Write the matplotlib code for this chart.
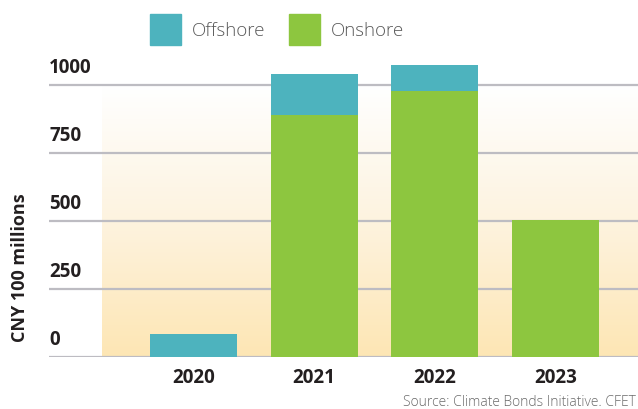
import numpy as np
import matplotlib
matplotlib.use("Agg")
import matplotlib.pyplot as plt
from matplotlib.colors import LinearSegmentedColormap
from matplotlib.patches import Rectangle
import matplotlib.transforms as mtransforms

years = ["2020", "2021", "2022", "2023"]
onshore = [0, 890, 978, 505]
offshore = [85, 150, 95, 0]
yticks = [0, 250, 500, 750, 1000]

C_OFF = "#4DB3BE"
C_ON = "#8DC63F"
DARK = "#231F20"
BOLD_FONT = "Open Sans"
LIGHT_FONT = "Open Sans"

fig = plt.figure(figsize=(6.38, 4.10), dpi=100)
ax = fig.add_axes([49/638, 52/410, 589/638, 299.2/410])
x = np.arange(len(years))
ax.set_xlim(-1.1975, 3.684)
ax.set_ylim(0, 1100)

# gradient background
cmap = LinearSegmentedColormap.from_list("bg", ["#FEE6B4", "#FDF3DF", "#FFFFFF"])
grad = np.linspace(0, 1, 256).reshape(-1, 1)
ax.imshow(grad, extent=[-0.758, 3.684, 0, 1000], origin="lower", cmap=cmap,
          aspect="auto", zorder=0)

for v in yticks:
    ax.axhline(v, color="#BDBCC2", lw=1.6, zorder=1)

w = 0.721
ax.bar(x, onshore, w, color=C_ON, zorder=2)
ax.bar(x, offshore, w, bottom=onshore, color=C_OFF, zorder=2)

for s in ax.spines.values():
    s.set_visible(False)
ax.set_yticks([])
ax.set_xticks(x)
ax.set_xticklabels(years, fontsize=13.5, fontweight="bold", color=DARK, family=BOLD_FONT)
ax.tick_params(axis="x", length=0, pad=7)

trans = mtransforms.offset_copy(ax.get_yaxis_transform(), fig=fig, x=0, y=5.5, units="points")
for v in yticks:
    ax.text(0, v, str(v), transform=trans, ha="left", va="bottom", fontsize=13.5,
            fontweight="bold", color=DARK, family=BOLD_FONT)

fig.text(20/638, 1 - 268/410, "CNY 100 millions", rotation=90, ha="center", va="center",
         fontsize=13, fontweight="bold", color=DARK, family=BOLD_FONT)

# legend
for (lx, tx, lab, col) in [(150, 192, "Offshore", C_OFF), (289, 331, "Onshore", C_ON)]:
    fig.patches.append(Rectangle((lx/638, 1 - 46/410), 31/638, 31/410,
                                 transform=fig.transFigure, color=col, figure=fig))
    fig.text(tx/638, 1 - 31/410, lab, ha="left", va="center", fontsize=13.5,
             fontweight="light", color="#5A5A5A", family=LIGHT_FONT)

fig.text(636/638, 1 - 403/410, "Source: Climate Bonds Initiative. CFET", ha="right",
         va="center", fontsize=10, fontweight="light", color="#6A6A6A", family=LIGHT_FONT)

fig.savefig("out.png", dpi=100)
